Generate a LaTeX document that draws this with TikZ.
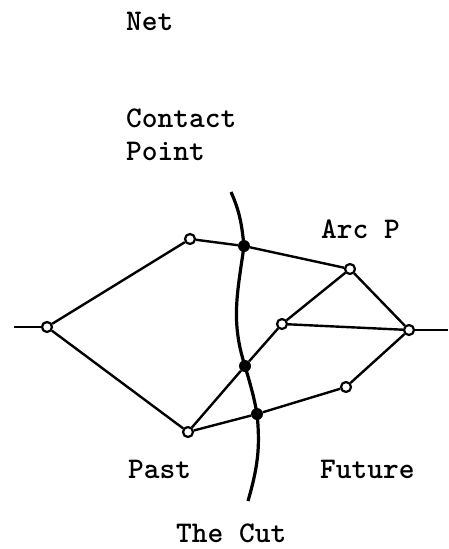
\documentclass[tikz,border=0pt]{standalone}
\begin{document}
\begin{tikzpicture}[x=1pt,y=-1pt,
  lbl/.style={anchor=base west,inner sep=0pt,font=\fontsize{30}{33}\selectfont\ttfamily\bfseries,align=left},
  place/.style={circle,draw,fill=white,line width=2.2pt,minimum size=10pt,inner sep=0pt},
  contact/.style={circle,fill,minimum size=12pt,inner sep=0pt},
  edge/.style={line width=2.4pt},
  cutline/.style={line width=3.2pt}]
\useasboundingbox (0,0) rectangle (448,549);
% labels
\node[lbl] (net) at (126,30) {Net};
\node[lbl] (cp) at (126,160) {Contact\\Point};
\node[lbl] (arcp) at (321,238) {Arc P};
\node[lbl] (past) at (128,478) {Past};
\node[lbl] (future) at (320,478) {Future};
\node[lbl] (thecut) at (176,542) {The Cut};
% free ends
\coordinate (lin) at (14,327);
\coordinate (rout) at (448,330);
\coordinate (ctop) at (231,192);
\coordinate (cbot) at (248,501);
% contact points
\node[contact] (c1) at (244,246) {};
\node[contact] (c2) at (245,366) {};
\node[contact] (c3) at (257,414) {};
% cut
\draw[cutline] (ctop) to[out=-66,in=96] (c1.center)
  to[out=-98,in=108] (c2.center)
  to[out=-74,in=100] (c3.center)
  to[out=-84,in=74] (cbot);
% places
\node[place] (l) at (47,327) {};
\node[place] (a) at (190,239) {};
\node[place] (b) at (350,269) {};
\node[place] (d) at (282,324) {};
\node[place] (r) at (409,330) {};
\node[place] (e) at (346,387) {};
\node[place] (f) at (188,432) {};
% edges
\draw[edge] (lin) -- (l);
\draw[edge] (r) -- (rout);
\draw[edge] (l) -- (a);
\draw[edge] (l) -- (f);
\draw[edge] (a) -- (c1);
\draw[edge] (c1) -- (b);
\draw[edge] (b) -- (d);
\draw[edge] (b) -- (r);
\draw[edge] (d) -- (r);
\draw[edge] (d) -- (c2);
\draw[edge] (c2) -- (f);
\draw[edge] (f) -- (c3);
\draw[edge] (c3) -- (e);
\draw[edge] (e) -- (r);
\end{tikzpicture}
\end{document}
